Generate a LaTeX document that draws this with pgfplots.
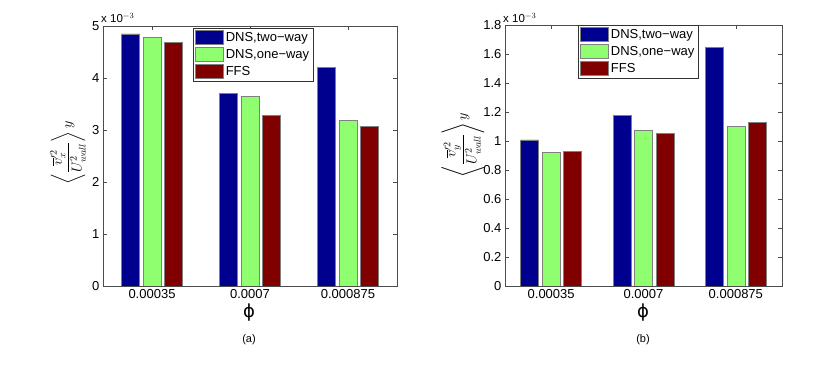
\documentclass[border=0pt]{standalone}
\usepackage{pgfplots}
\pgfplotsset{compat=1.18}
\usepackage{amsmath}
\usepackage{fontspec}
\setmainfont{Liberation Sans}
\newfontfamily\dejavu{DejaVu Sans}
\definecolor{barblue}{RGB}{0,0,143}
\definecolor{bargreen}{RGB}{143,255,112}
\definecolor{barred}{RGB}{128,0,0}

\pgfplotsset{
  barstyle/.style={
    scale only axis,
    ybar=3.5pt,
    bar width=18pt,
    xmin=0.5, xmax=3.5,
    ymin=0,
    xtick={1,2,3},
    xticklabels={0.00035,0.0007,0.000875},
    tick align=inside,
    major tick length=4pt,
    axis line style={black!70},
    tick style={black!70},
    ticklabel style={font=\fontsize{13}{15}\selectfont},
    /pgf/number format/assume math mode=true,
    scaled ticks=false,
    legend cell align=left,
    legend style={draw=black!80, font=\fontsize{13}{15}\selectfont,
      inner xsep=2pt, inner ysep=2pt, row sep=2.5pt, anchor=north west},
    legend image code/.code={\draw[#1] (0pt,-7pt) rectangle (28pt,7pt);},
    every axis plot/.append style={draw=black!50, line width=0.6pt},
  }
}

\begin{document}
\begin{tikzpicture}[x=1pt,y=1pt]
\useasboundingbox (0,0) rectangle (830,372);

% (a)
\begin{axis}[barstyle,
  at={(103pt,86pt)}, anchor=south west,
  width=294pt, height=260pt,
  ymax=5, ytick={0,1,2,3,4,5},
  legend style={at={(axis description cs:0.306,0.992)}},
]
\addplot[fill=barblue] coordinates {(1,4.85) (2,3.71) (3,4.20)};
\addplot[fill=bargreen] coordinates {(1,4.78) (2,3.65) (3,3.19)};
\addplot[fill=barred] coordinates {(1,4.68) (2,3.28) (3,3.07)};
\legend{{DNS,two−way}, {DNS,one−way}, FFS}
\end{axis}

% (b)
\begin{axis}[barstyle,
  at={(505pt,86pt)}, anchor=south west,
  width=277pt, height=261pt,
  ymax=1.8, ytick={0,0.2,0.4,0.6,0.8,1,1.2,1.4,1.6,1.8},
  yticklabels={0,0.2,0.4,0.6,0.8,1,1.2,1.4,1.6,1.8},
  legend style={at={(axis description cs:0.264,1.0)}},
]
\addplot[fill=barblue] coordinates {(1,1.007) (2,1.179) (3,1.646)};
\addplot[fill=bargreen] coordinates {(1,0.919) (2,1.074) (3,1.101)};
\addplot[fill=barred] coordinates {(1,0.926) (2,1.053) (3,1.131)};
\legend{{DNS,two−way}, {DNS,one−way}, FFS}
\end{axis}

% scale labels
\node[anchor=south west, inner sep=0pt, font=\fontsize{11.5}{13}\selectfont] at (101,349) {x 10$^{-3}$};
\node[anchor=south west, inner sep=0pt, font=\fontsize{11.5}{13}\selectfont] at (503,349) {x 10$^{-3}$};

% y labels
\node[rotate=90, font=\fontsize{14}{17}\selectfont] at (68,219)
  {$\left\langle \dfrac{\overline{v}^{\prime 2}_{x}}{U^{2}_{wall}} \right\rangle y$};
\node[rotate=90, font=\fontsize{14}{17}\selectfont] at (463,227)
  {$\left\langle \dfrac{\overline{v}^{\prime 2}_{y}}{U^{2}_{wall}} \right\rangle y$};

% x labels
\node[font=\dejavu\fontsize{18}{21}\selectfont] at (249,59) {ϕ};
\node[font=\dejavu\fontsize{18}{21}\selectfont] at (643,59) {ϕ};

% captions
\node[font=\fontsize{11}{13}\selectfont] at (249,32) {(a)};
\node[font=\fontsize{11}{13}\selectfont] at (643,32) {(b)};
\end{tikzpicture}
\end{document}
